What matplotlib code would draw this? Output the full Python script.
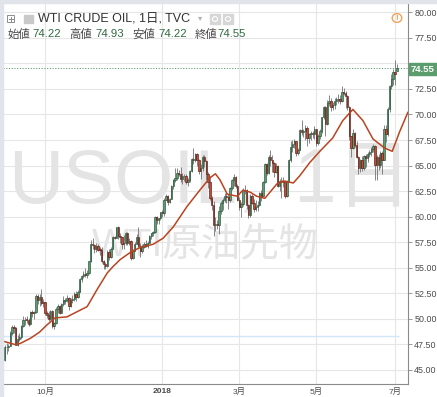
import numpy as np
import pandas as pd
import matplotlib
matplotlib.use("Agg")
import matplotlib.pyplot as plt
from matplotlib.patches import Rectangle, Circle

# ---------------- data (WTI daily, TVC) ----------------
holidays = ["2017-12-25", "2018-01-01", "2018-03-30", "2018-05-28"]
dates = pd.bdate_range("2017-08-31", "2018-07-03")
dates = dates[~dates.isin(pd.to_datetime(holidays))]

open_ = [46.00, 47.23, 47.29, 47.37, 48.66, 49.16, 49.09, 47.48, 48.07, 48.23, 49.30, 49.85, 49.95, 49.91, 49.48, 50.69, 50.55, 50.66, 52.22, 51.88, 52.14, 51.56,
         51.67, 50.58, 50.42, 49.98, 50.79, 49.29, 49.58, 50.92, 51.30, 50.60, 51.45, 51.80, 51.88, 52.04, 51.29, 51.84, 51.90, 52.47, 52.18, 52.64, 53.90, 54.15,
         54.38, 54.30, 54.54, 55.64, 57.35, 57.20, 56.81, 57.17, 56.80, 56.76, 55.70, 55.33, 55.14, 56.55, 56.09, 56.83, 58.02, 57.95, 58.95, 58.11, 57.99, 57.30,
         57.40, 58.36, 57.47, 57.62, 55.96, 56.69, 57.36, 57.99, 57.14, 56.60, 57.04, 57.30, 57.16, 57.46, 58.09, 58.36, 58.47, 59.97, 59.64, 59.84,
         60.42, 60.37, 61.63, 62.01, 61.44, 61.73, 62.96, 63.57, 63.80, 64.30, 64.20, 63.73, 64.00, 63.95, 63.37, 63.57, 64.47, 65.61, 65.51, 66.14, 65.56, 64.50,
         64.73, 65.80, 65.45, 64.15, 63.39, 61.79, 61.15, 59.20, 59.29, 59.19, 60.60, 61.34, 61.68, 62.00, 61.90, 61.68, 62.77, 63.55, 63.91, 63.01,
         61.64, 60.99, 61.25, 62.50, 62.60, 61.15, 60.12, 62.04, 61.36, 60.71, 60.96, 61.19, 62.34, 62.06, 63.40, 65.17, 64.30, 65.88, 65.55, 65.25, 64.38,
         64.94, 63.01, 63.51, 63.37, 63.54, 62.06, 63.42, 65.51, 66.82, 67.07, 67.39, 66.22, 66.52, 68.47, 68.29, 68.38, 68.64, 67.70, 68.05, 68.19, 68.10,
         68.57, 67.25, 67.93, 68.43, 69.72, 70.73, 69.06, 71.14, 71.36, 70.70, 70.96, 71.31, 71.45, 71.49, 71.28, 72.24, 72.13, 71.84, 70.71, 67.88, 66.73, 68.21,
         67.04, 65.81, 64.75, 65.52, 64.73, 65.95, 65.74, 66.10, 66.36, 66.64, 66.89, 65.06, 65.85, 65.07, 66.22, 65.54, 68.58, 68.08, 70.53, 72.76, 73.45,
         74.15, 74.22]
high = [47.40, 47.60, 47.50, 48.80, 49.40, 49.40, 49.20, 48.40, 48.60, 49.40, 50.30, 50.20, 50.30, 50.10, 50.80, 50.90, 50.80, 52.40, 52.40, 52.40, 52.90, 51.90,
        51.70, 50.80, 50.80, 50.90, 50.90, 49.70, 51.20, 51.50, 51.40, 51.60, 52.20, 52.00, 52.30, 52.10, 52.00, 52.30, 52.60, 52.70, 52.80, 54.00, 54.30, 54.70,
        55.00, 54.80, 55.70, 57.70, 57.90, 57.30, 57.40, 57.30, 57.00, 57.00, 55.80, 55.60, 56.70, 56.80, 57.00, 58.10, 58.10, 59.00, 59.10, 58.40, 58.00, 58.20,
        58.50, 58.50, 57.90, 57.70, 56.80, 57.50, 58.30, 59.00, 57.40, 57.30, 57.50, 57.70, 57.60, 58.20, 58.40, 58.60, 60.10, 60.10, 59.90, 60.50,
        60.70, 61.80, 62.20, 62.10, 61.80, 63.10, 63.70, 64.80, 64.80, 64.60, 64.90, 64.30, 64.20, 64.20, 63.80, 64.60, 65.70, 66.70, 66.20, 66.20, 65.60, 65.20,
        66.00, 66.00, 65.50, 64.40, 64.00, 62.00, 61.50, 60.00, 59.70, 61.00, 61.50, 61.80, 62.30, 62.30, 62.20, 62.90, 63.70, 64.20, 64.00, 63.20,
        61.90, 61.40, 62.80, 63.10, 62.70, 61.20, 62.20, 62.20, 61.70, 61.60, 61.50, 62.40, 62.60, 63.50, 65.30, 65.30, 66.00, 66.50, 66.00, 65.40, 65.30,
        65.10, 63.70, 63.90, 63.90, 63.60, 63.60, 65.60, 67.40, 67.50, 67.60, 67.40, 66.70, 68.60, 69.50, 68.60, 69.00, 68.90, 68.20, 68.40, 68.40, 68.90,
        68.60, 68.10, 68.60, 69.80, 70.80, 70.80, 71.40, 71.90, 71.60, 71.20, 71.60, 71.70, 72.00, 71.90, 72.80, 72.60, 72.30, 71.90, 70.80, 67.90, 68.60, 68.30,
        67.40, 65.90, 65.60, 65.90, 66.00, 66.10, 66.30, 66.50, 66.80, 67.10, 67.00, 66.00, 66.10, 66.40, 66.40, 69.00, 69.00, 70.70, 72.90, 74.00, 74.50,
        75.30, 74.93]
low = [45.90, 46.60, 46.90, 47.30, 48.40, 48.60, 47.40, 47.30, 47.80, 48.00, 49.20, 49.40, 49.60, 49.30, 49.40, 50.20, 50.00, 50.60, 51.50, 51.30, 51.40, 51.20,
       50.40, 50.10, 49.80, 49.90, 49.10, 49.00, 49.50, 50.60, 50.50, 50.60, 51.30, 51.50, 51.70, 50.90, 51.20, 51.60, 51.80, 51.80, 52.00, 52.60, 53.60, 54.00,
       54.10, 54.00, 54.40, 55.60, 56.80, 56.40, 56.50, 56.60, 56.30, 55.50, 54.90, 54.90, 55.10, 55.80, 56.00, 56.80, 57.80, 57.90, 57.80, 57.40, 56.80, 56.80,
       57.20, 57.20, 57.20, 55.80, 55.90, 56.60, 57.30, 57.00, 56.10, 56.40, 56.90, 57.00, 56.90, 57.40, 57.80, 58.10, 58.40, 59.30, 59.30, 59.70,
       60.00, 60.10, 61.60, 61.10, 61.30, 61.70, 62.70, 63.40, 63.60, 64.00, 63.40, 63.20, 63.50, 63.20, 63.00, 63.40, 64.40, 65.20, 65.40, 65.00, 64.20, 63.70,
       64.50, 64.90, 63.60, 62.80, 61.60, 60.70, 58.10, 58.60, 58.80, 58.30, 60.30, 60.70, 61.40, 61.30, 60.80, 61.40, 62.60, 63.00, 62.80, 61.50,
       60.70, 60.00, 61.00, 62.20, 60.80, 59.90, 60.00, 61.20, 60.50, 60.60, 60.60, 61.00, 61.50, 62.00, 63.30, 64.10, 64.20, 65.00, 64.40, 63.90, 64.30,
       62.90, 62.50, 61.80, 62.90, 61.80, 61.90, 63.40, 65.40, 66.30, 66.70, 65.90, 66.00, 66.50, 68.00, 67.80, 67.50, 66.90, 67.20, 67.50, 67.70, 67.60,
       66.90, 67.00, 67.60, 68.20, 69.60, 67.90, 69.00, 70.80, 70.30, 70.40, 70.50, 70.90, 71.10, 71.00, 71.20, 71.90, 70.60, 70.40, 67.50, 65.80, 66.60, 66.80,
       65.70, 64.20, 64.40, 64.50, 64.60, 64.90, 65.40, 65.80, 65.90, 66.30, 63.60, 63.60, 64.60, 64.80, 64.20, 65.50, 67.30, 67.90, 70.20, 72.50, 72.90,
       72.90, 74.22]
close = [47.23, 47.29, 47.37, 48.66, 49.16, 49.09, 47.48, 48.07, 48.23, 49.30, 49.89, 49.89, 49.91, 49.48, 50.69, 50.55, 50.66, 52.22, 51.88, 52.14, 51.56, 51.67,
         50.58, 50.42, 49.98, 50.79, 49.29, 49.58, 50.92, 51.30, 50.60, 51.45, 51.87, 51.88, 52.04, 51.29, 51.84, 51.90, 52.47, 52.18, 52.64, 53.90, 54.15, 54.38,
         54.30, 54.54, 55.64, 57.35, 57.20, 56.81, 57.17, 56.74, 56.76, 55.70, 55.33, 55.14, 56.55, 56.09, 56.83, 58.02, 57.95, 58.95, 58.11, 57.99, 57.30, 57.40,
         58.36, 57.47, 57.62, 55.96, 56.69, 57.36, 57.99, 57.14, 56.60, 57.04, 57.30, 57.16, 57.46, 58.09, 58.36, 58.47, 59.97, 59.64, 59.84, 60.42,
         60.37, 61.63, 62.01, 61.44, 61.73, 62.96, 63.57, 63.80, 64.30, 64.20, 63.73, 63.97, 63.95, 63.37, 63.57, 64.47, 65.61, 65.51, 66.14, 65.56, 64.50, 64.73,
         65.80, 65.45, 64.15, 63.39, 61.79, 61.15, 59.20, 59.29, 59.19, 60.60, 61.34, 61.68, 62.00, 61.90, 61.68, 62.77, 63.55, 63.91, 63.01, 61.64,
         60.99, 61.25, 62.57, 62.60, 61.15, 60.12, 62.04, 61.36, 60.71, 60.96, 61.19, 62.34, 62.06, 63.40, 65.17, 64.30, 65.88, 65.55, 65.25, 64.38, 64.94,
         63.01, 63.51, 63.37, 63.54, 62.06, 63.42, 65.51, 66.82, 67.07, 67.39, 66.22, 66.52, 68.47, 68.29, 68.38, 68.64, 67.70, 68.05, 68.19, 68.10, 68.57,
         67.25, 67.93, 68.43, 69.72, 70.73, 69.06, 71.14, 71.36, 70.70, 70.96, 71.31, 71.49, 71.49, 71.28, 72.24, 72.13, 71.84, 70.71, 67.88, 66.73, 68.21, 67.04,
         65.81, 64.75, 65.52, 64.73, 65.95, 65.74, 66.10, 66.36, 66.64, 66.89, 65.06, 65.85, 65.07, 66.22, 65.54, 68.58, 68.08, 70.53, 72.76, 73.45, 74.15,
         73.94, 74.55]

# moving average line (bar position, value)
ma_pos = [-2.5, 5.5, 8.5, 14, 19, 23, 27.5, 34, 39.5, 45, 50.5, 56, 59, 63, 68.5, 74, 81, 86.5, 92, 99.5, 106.5, 112, 115, 117.5,
          121.5, 127, 130, 134, 137.5, 142, 148.5, 152, 157.5, 161, 166.5, 172, 179, 184.5, 190, 195.5, 201, 207.5, 211.5, 215.5, 220]
ma_val = [47.9, 47.5, 47.6, 48.1, 48.7, 49.4, 50.1, 50.2, 50.7, 51.2, 52.9, 54.5, 55.1, 55.8, 56.5, 57.0, 57.3, 57.9, 59.0, 61.0, 62.6, 63.8, 64.2, 63.6,
          62.2, 62.0, 62.6, 62.4, 62.0, 61.8, 63.2, 63.5, 63.3, 64.0, 65.3, 66.4, 67.7, 69.4, 70.5, 69.4, 67.6, 66.7, 66.4, 68.3, 70.2]

last_price = 74.55
hline_level = 48.36
yticks = [45.0, 47.5, 50.0, 52.5, 55.0, 57.5, 60.0, 62.5, 65.0, 67.5, 70.0, 72.5, 75.0, 77.5, 80.0]
xtick_dates = ["2017-10-02", "2018-01-02", "2018-03-01", "2018-05-01", "2018-07-02"]
xtick_labels = ["10月", "2018", "3月", "5月", "7月"]
hdr_labels = ["始値", "高値", "安値", "終値"]
hdr_values = ["74.22", "74.93", "74.22", "74.55"]

if len(dates) != len(close):
    raise SystemExit(f"length mismatch {len(dates)} vs {len(close)}")

# ---------------- figure ----------------
W, H = 437, 397
FAM = ["Liberation Sans", "Noto Sans CJK JP", "DejaVu Sans"]
plt.rcParams["font.family"] = FAM

fig = plt.figure(figsize=(W / 100, H / 100), dpi=100)
fig.patch.set_facecolor("white")

def fx(px):
    return px / W

def fy(py):
    return 1 - py / H

ax = fig.add_axes([fx(3), fy(384), (408 - 3) / W, (384 - 4) / H])
ax.set_facecolor("white")

o = np.array(open_); h = np.array(high); l = np.array(low); c = np.array(close)
n = len(c)
x = np.arange(n)
pos = {d.strftime("%Y-%m-%d"): i for i, d in enumerate(dates)}
xt = [pos[d] for d in xtick_dates]

s = (395 - 45) / (xt[-1] - xt[0])
ax.set_xlim(xt[0] - 42 / s, xt[0] + 363 / s)
pxv = 10.22
ax.set_ylim(45 - 14 / pxv, 45 + 366 / pxv)

# grid / ticks
ax.set_yticks(yticks)
# the 75.00 label sits under the last-price badge
ax.set_yticklabels(["" if abs(v - 75.0) < 1e-9 else f"{v:.2f}" for v in yticks])
ax.set_xticks(xt)
ax.set_xticklabels(xtick_labels)
ax.grid(True, color="#e6e6e6", lw=0.8)
ax.set_axisbelow(True)

for sp in ["top", "left"]:
    ax.spines[sp].set_visible(False)
for sp in ["right", "bottom"]:
    ax.spines[sp].set_color("#8a8a8a")
    ax.spines[sp].set_linewidth(0.8)

ax.yaxis.tick_right()
ax.tick_params(axis="y", which="both", length=3, width=0.6, color="#8a8a8a",
               labelsize=6.4, labelcolor="#4a4a4a", pad=1.5)
ax.tick_params(axis="x", length=0, labelsize=6.0, labelcolor="#4a4a4a", pad=2.6)
for lab in ax.get_xticklabels():
    if lab.get_text() == "2018":
        lab.set_fontweight("bold")

# watermark
wm = "#e4e4e4"
ax.text(fx(8), fy(202), "USOIL,", transform=fig.transFigure, fontsize=55,
        color=wm, ha="left", va="baseline", zorder=1)
ax.text(fx(293), fy(202), "1日", transform=fig.transFigure, fontsize=55,
        color=wm, ha="left", va="baseline", zorder=1)
ax.text(fx(92), fy(256), "WTI原油先物", transform=fig.transFigure, fontsize=28,
        color=wm, ha="left", va="baseline", zorder=1)

# horizontal lines
ax.hlines(hline_level, ax.get_xlim()[0], n, color="#d3e5f7", lw=1.0, zorder=2)
ax.axhline(last_price, color="#5f9f70", lw=0.7, ls=(0, (1.2, 1.6)), zorder=2)

# candles
up = c >= o
body_lo = np.minimum(o, c)
body_h = np.maximum(np.abs(c - o), 0.06)
ax.vlines(x, l, h, color="#737375", lw=0.6, zorder=3)
ax.bar(x[up], body_h[up], bottom=body_lo[up], width=0.74, color="#5f9b73",
       edgecolor="#225437", linewidth=0.45, zorder=4)
ax.bar(x[~up], body_h[~up], bottom=body_lo[~up], width=0.74, color="#c94a35",
       edgecolor="#5b1a13", linewidth=0.45, zorder=4)

# moving average
ax.plot(ma_pos, ma_val, color="#b9441f", lw=1.1, zorder=5, solid_joinstyle="round")

# ---------- overlays in pixel coordinates ----------
fig.patches.append(Rectangle((0, fy(3)), 1, 3 / H, transform=fig.transFigure,
                             color="#e1e4ea", zorder=10))
fig.patches.append(Rectangle((0, 0), 3 / W, 1, transform=fig.transFigure,
                             color="#e1e4ea", zorder=10))

# price badge
fig.patches.append(Rectangle((fx(409), fy(75)), 28 / W, 12 / H, transform=fig.transFigure,
                             color="#5b9d6d", zorder=10))
fig.text(fx(423), fy(69), f"{last_price:.2f}", color="white", fontsize=6.8,
         fontweight="bold", ha="center", va="center", zorder=11)

# header icons
fig.patches.append(Rectangle((fx(7), fy(22)), 7 / W, 7 / H, transform=fig.transFigure,
                             fill=False, edgecolor="#8c8c8c", lw=0.7, zorder=10))
fig.lines.append(plt.Line2D([fx(8.5), fx(12.5)], [fy(18.5), fy(18.5)], transform=fig.transFigure,
                            color="#8c8c8c", lw=0.7, zorder=11))
fig.lines.append(plt.Line2D([fx(10.5), fx(10.5)], [fy(16.5), fy(20.5)], transform=fig.transFigure,
                            color="#8c8c8c", lw=0.7, zorder=11))
fig.patches.append(Rectangle((fx(24), fy(23)), 9 / W, 8 / H, transform=fig.transFigure,
                             color="#c9c9c9", zorder=10))
fig.text(fx(200), fy(18), "▾", color="#b0b0b0", fontsize=6, ha="center", va="center",
         family=["DejaVu Sans"], zorder=11)
for bx in (210, 223):
    fig.patches.append(Rectangle((fx(bx), fy(24)), 10 / W, 10 / H, transform=fig.transFigure,
                                 color="#d6d6d6", zorder=10))
    fig.patches.append(Circle((fx(bx + 5), fy(19)), 2.6 / W, transform=fig.transFigure,
                              fill=False, edgecolor="white", lw=0.8, zorder=11))
fig.patches.append(Circle((fx(397), fy(18)), 4.8 / W, transform=fig.transFigure,
                          fill=False, edgecolor="#f2a15c", lw=1.0, zorder=10))
fig.text(fx(397), fy(18), "!", color="#f2a15c", fontsize=6, fontweight="bold",
         ha="center", va="center", zorder=11)

# header texts
fig.text(fx(38), fy(19), "WTI CRUDE OIL, 1日, TVC", color="#333333", fontsize=9,
         ha="left", va="center", zorder=11)
lab_x = [7, 69, 132, 195]
val_x = [32, 95, 158, 217]
for lx, vx, lt, vt in zip(lab_x, val_x, hdr_labels, hdr_values):
    fig.text(fx(lx), fy(34), lt, color="#4a4a4a", fontsize=8.2, ha="left", va="center", zorder=11)
    fig.text(fx(vx), fy(34), vt, color="#2f6b40", fontsize=8.2, ha="left", va="center", zorder=11)

fig.savefig("out.png", dpi=100, facecolor="white")
